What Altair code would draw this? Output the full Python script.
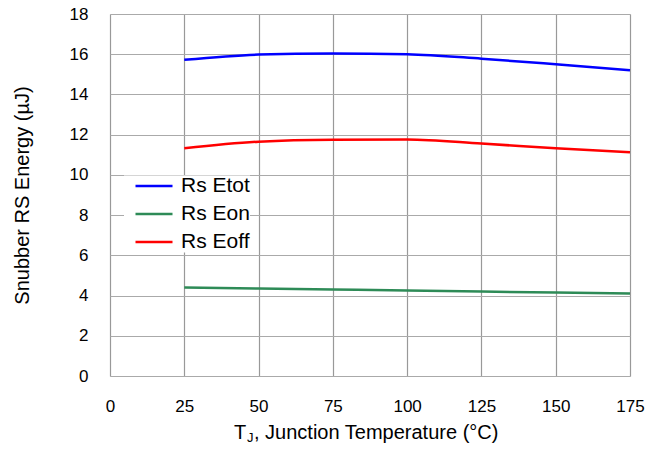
import altair as alt
import pandas as pd

temps = [25, 50, 75, 100, 125, 150, 175]
etot = [15.72, 15.98, 16.04, 16.0, 15.78, 15.5, 15.2]
eon = [4.4, 4.35, 4.3, 4.25, 4.2, 4.15, 4.1]
eoff = [11.32, 11.65, 11.75, 11.76, 11.56, 11.32, 11.12]
series_names = ["Rs Etot", "Rs Eon", "Rs Eoff"]
series_colors = ["#0000ff", "#2e8b57", "#ff0000"]
x_ticks = [0, 25, 50, 75, 100, 125, 150, 175]
y_ticks = [0, 2, 4, 6, 8, 10, 12, 14, 16, 18]
x_title_parts = ["T", "J", ", Junction Temperature (°C)"]
y_title = "Snubber RS Energy (µJ)"

rows = []
for name, vals in zip(series_names, [etot, eon, eoff]):
    for t, v in zip(temps, vals):
        rows.append({"T": t, "E": v, "series": name})
df = pd.DataFrame(rows)

FONT = "Liberation Sans"

lines = alt.Chart(df).mark_line(strokeWidth=2.5, interpolate="monotone").encode(
    x=alt.X("T:Q", scale=alt.Scale(domain=[0, 175], nice=False),
            axis=alt.Axis(values=x_ticks, title=None, grid=True, ticks=False, tickSize=0,
                          domain=False, labelPadding=22, labelFontSize=17, labelColor="black",
                          labelFont=FONT, gridColor="#999999", gridWidth=1.2,
                          labelFlush=False)),
    y=alt.Y("E:Q", scale=alt.Scale(domain=[0, 18], nice=False),
            axis=alt.Axis(values=y_ticks, title=y_title, grid=True, ticks=False,
                          tickSize=0, domain=False, labelPadding=22, labelFontSize=17,
                          labelColor="black", labelFont=FONT, gridColor="#aaaaaa", gridWidth=1.2,
                          titleFontSize=20, titleFont=FONT, titleFontWeight="normal",
                          titleColor="black", titlePadding=37, labelFlush=False)),
    color=alt.Color("series:N", scale=alt.Scale(domain=series_names, range=series_colors),
                    sort=series_names,
                    legend=alt.Legend(title=None, orient="none", legendX=14, legendY=161.5,
                                      fillColor="white", padding=0, symbolType="stroke",
                                      symbolSize=1369, symbolStrokeWidth=2.5, clipHeight=21,
                                      symbolOffset=10, rowPadding=6, labelFontSize=21,
                                      labelFont=FONT, labelColor="black", labelOffset=7,
                                      labelExpr="datum.label + '     '")),
)

t_main = alt.Chart(pd.DataFrame({"t": [x_title_parts[0]]})).mark_text(
    fontSize=20, font=FONT, align="left", baseline="alphabetic", color="black").encode(
    x=alt.value(124), y=alt.value(424.5), text="t:N")
t_sub = alt.Chart(pd.DataFrame({"t": [x_title_parts[1]]})).mark_text(
    fontSize=13, font=FONT, align="left", baseline="alphabetic", color="black").encode(
    x=alt.value(137), y=alt.value(427.5), text="t:N")
t_rest = alt.Chart(pd.DataFrame({"t": [x_title_parts[2]]})).mark_text(
    fontSize=20, font=FONT, align="left", baseline="alphabetic", color="black").encode(
    x=alt.value(144), y=alt.value(424.5), text="t:N")

chart = alt.layer(lines, t_main, t_sub, t_rest).properties(
    width=520, height=362,
    autosize=alt.AutoSizeParams(type="none"),
    padding={"left": 102, "top": 6, "right": 17, "bottom": 67},
).configure_view(stroke="black", strokeWidth=2).configure(background="white")

chart.save("out.html", embed_options={"renderer": "svg", "actions": False})
